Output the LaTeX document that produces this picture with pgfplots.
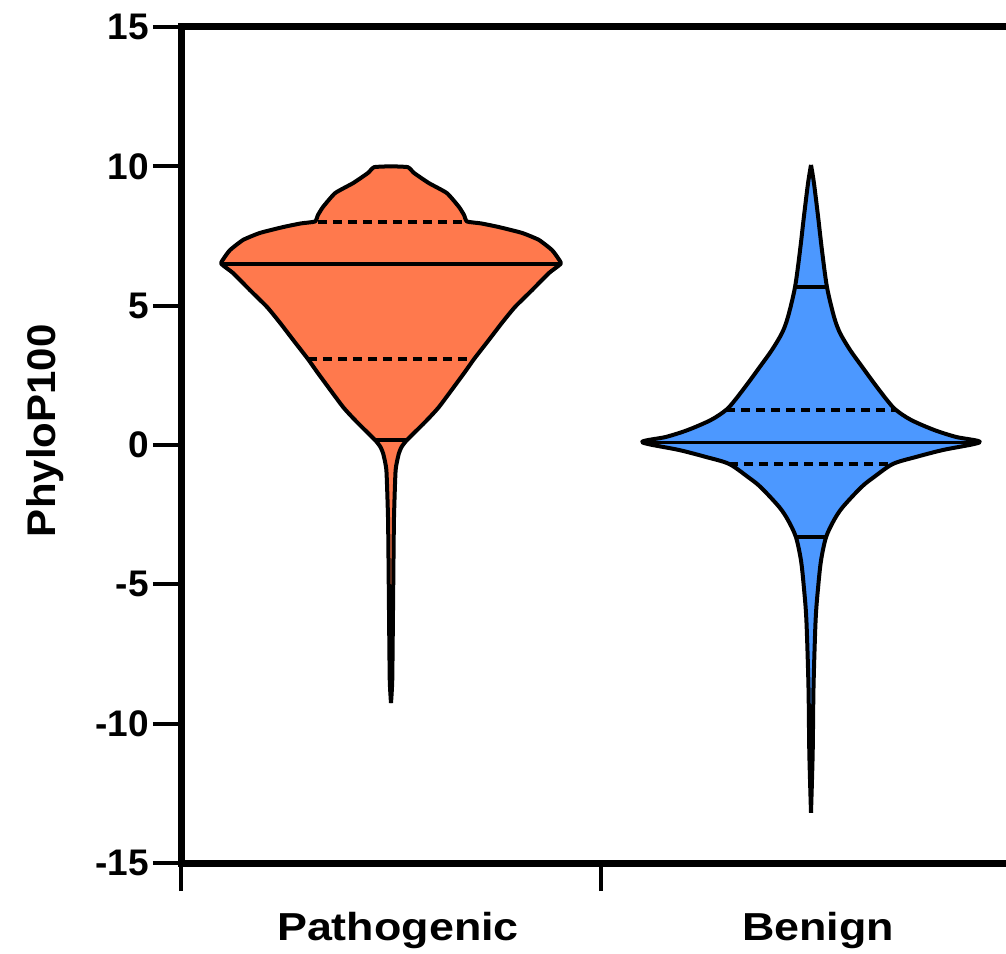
\documentclass[border=0pt]{standalone}
\usepackage{pgfplots}
\pgfplotsset{compat=1.18}
\usepgfplotslibrary{fillbetween}
\usepackage{pgfplotstable}
\usepackage{fontspec}
\setmainfont{Liberation Sans}
\newfontfamily\labfont[FakeStretch=1.15]{Liberation Sans}
\newfontfamily\ylabfont[FakeStretch=1.05]{Liberation Sans}
\definecolor{patcol}{RGB}{255,121,77}
\definecolor{bencol}{RGB}{76,152,255}

\pgfplotstableread{
y w
10.00 0
9.97 0.040
9.76 0.055
9.40 0.090
9.04 0.133
8.54 0.162
8.25 0.174
8.02 0.181
7.95 0.215
7.82 0.257
7.61 0.312
7.36 0.352
7.00 0.383
6.70 0.398
6.50 0.404
6.17 0.376
5.56 0.336
4.95 0.295
4.38 0.264
3.77 0.233
3.09 0.198
2.58 0.174
1.36 0.114
0.79 0.079
0.18 0.038
-0.05 0.026
-0.29 0.019
-0.90 0.011
-2.69 0.007
-5.56 0.005
-8.43 0.003
-9.26 0
}\pat

\pgfplotstableread{
y w
10.05 0
9.40 0.007
8.18 0.017
7.00 0.026
5.67 0.038
4.59 0.055
4.02 0.069
3.41 0.093
2.80 0.122
2.22 0.150
1.61 0.181
1.26 0.202
0.90 0.238
0.54 0.293
0.29 0.345
0.10 0.402
-0.18 0.314
-0.43 0.250
-0.68 0.195
-1.15 0.150
-1.51 0.120
-2.22 0.076
-2.69 0.055
-3.30 0.036
-4.13 0.024
-5.10 0.017
-6.28 0.011
-8.68 0.006
-11.05 0.004
-13.20 0
}\ben

\begin{document}
\begin{tikzpicture}
\begin{axis}[
  at={(0pt,0pt)}, anchor=south west,
  scale only axis, width=420pt, height=418pt,
  xmin=0, xmax=2, ymin=-15, ymax=15,
  axis line style={line width=3.5pt},
  every tick/.style={black, line width=2pt},
  tick align=outside, major tick length=14pt,
  xtick pos=left, ytick pos=left,
  xtick={0,1,2}, xticklabels={},
  extra x ticks={0.5,1.5},
  extra x tick labels={Pathogenic,Benign},
  extra x tick style={major tick length=0pt,
    xticklabel style={font=\labfont\fontsize{19.5}{22}\selectfont\bfseries,
      anchor=base, inner sep=0pt, yshift=-38.5pt, xshift=3.5pt}},
  ytick={-15,-10,-5,0,5,10,15},
  yticklabel style={font=\fontsize{18.5}{20}\selectfont\bfseries, anchor=east, inner sep=0pt, xshift=-2pt},
  /pgf/number format/assume math mode=true,
  ylabel={PhyloP100},
  ylabel style={font=\ylabfont\fontsize{20}{22}\selectfont\bfseries,
    at={(axis description cs:-0.162,0.517)}, anchor=center},
  clip=false,
]
% Pathogenic
\addplot[name path=PR, draw=none, smooth, tension=0.3] table[x expr=0.5+\thisrow{w}, y=y]{\pat};
\addplot[name path=PL, draw=none, smooth, tension=0.3] table[x expr=0.5-\thisrow{w}, y=y]{\pat};
\addplot[fill=patcol, draw=none] fill between[of=PR and PL];
\addplot[black, line width=2pt, line join=round, smooth, tension=0.3] table[x expr=0.5+\thisrow{w}, y=y]{\pat};
\addplot[black, line width=2pt, line join=round, smooth, tension=0.3] table[x expr=0.5-\thisrow{w}, y=y]{\pat};
% Benign
\addplot[name path=BR, draw=none, smooth, tension=0.5] table[x expr=1.5+\thisrow{w}, y=y]{\ben};
\addplot[name path=BL, draw=none, smooth, tension=0.5] table[x expr=1.5-\thisrow{w}, y=y]{\ben};
\addplot[fill=bencol, draw=none] fill between[of=BR and BL];
\addplot[black, line width=2pt, line join=round, smooth, tension=0.5] table[x expr=1.5+\thisrow{w}, y=y]{\ben};
\addplot[black, line width=2pt, line join=round, smooth, tension=0.5] table[x expr=1.5-\thisrow{w}, y=y]{\ben};
% quantile lines
\addplot[black, line width=1.7pt] coordinates {(0.096,6.5) (0.904,6.5)};
\addplot[black, line width=1.7pt, dash pattern=on 4.5pt off 3pt] coordinates {(0.326,8.0) (0.674,8.0)};
\addplot[black, line width=1.7pt, dash pattern=on 4.5pt off 3pt] coordinates {(0.302,3.09) (0.698,3.09)};
\addplot[black, line width=1.7pt] coordinates {(0.462,0.18) (0.538,0.18)};
\addplot[black, line width=1.7pt] coordinates {(1.098,0.1) (1.902,0.1)};
\addplot[black, line width=1.7pt, dash pattern=on 4.5pt off 3pt] coordinates {(1.298,1.26) (1.702,1.26)};
\addplot[black, line width=1.7pt, dash pattern=on 4.5pt off 3pt] coordinates {(1.305,-0.68) (1.695,-0.68)};
\addplot[black, line width=1.7pt] coordinates {(1.462,5.67) (1.538,5.67)};
\addplot[black, line width=1.7pt] coordinates {(1.464,-3.30) (1.536,-3.30)};
\end{axis}
\pgfresetboundingbox
\useasboundingbox (-90.5pt,-45pt) rectangle (412.5pt,431.5pt);
\end{tikzpicture}
\end{document}
